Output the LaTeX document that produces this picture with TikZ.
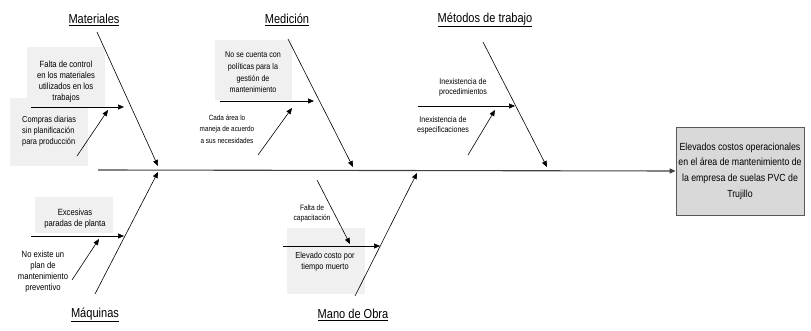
\documentclass[tikz,border=0pt]{standalone}
\usepackage{fontspec}
\setmainfont{Liberation Sans}[FakeStretch=0.85]
\usetikzlibrary{arrows.meta}
\newcommand{\fz}[2]{\fontsize{#1}{#2}\selectfont}
\begin{document}
\begin{tikzpicture}[x=1pt,y=-1pt,
  conn/.style={draw=black, line width=0.6pt, -{Triangle[length=6pt,width=5pt]}},
  spine/.style={draw=black!75, line width=1.1pt, -{Triangle[length=6pt,width=5pt]}},
  boxfill/.style={fill=black!6},
  lbl/.style={inner sep=0pt, align=center, text=black},
  ttl/.style={inner sep=0pt, text=black, font=\fz{13}{15}},
  effbox/.style={draw=black!65, fill=black!15, line width=0.8pt, minimum width=128pt, minimum height=88pt, inner sep=0pt, align=center, font=\fz{10.3}{15.7}}]
\useasboundingbox (0,0) rectangle (811,331);
% background boxes
\path[boxfill] (10,98) rectangle (88,166);
\path[boxfill] (27,47) rectangle (105,107);
\path[boxfill] (215,40) rectangle (292,100);
\path[boxfill] (35,197) rectangle (113,233);
\path[boxfill] (287,228) rectangle (365,294);
% effect
\node[effbox] (eff) at (740,171) {Elevados costos operacionales\\en el área de mantenimiento de\\la empresa de suelas PVC de\\Trujillo};
% titles
\node[ttl] (tmat) at (94,20) {\underline{Materiales}};
\node[ttl] (tmed) at (287,20) {\underline{Medición}};
\node[ttl] (tmet) at (485,20) {\underline{Métodos de trabajo}};
\node[ttl] (tmaq) at (95,315) {\underline{Máquinas}};
\node[ttl] (tmo) at (353,315) {\underline{Mano de Obra}};
% labels
\node[lbl, font=\fz{9}{11}] (l1) at (66,81.5) {Falta de control\\en los materiales\\utilizados en los\\trabajos};
\node[lbl, font=\fz{8.7}{11}, align=left, anchor=west] (l2) at (22,131) {Compras diarias\\sin planificación\\para producción};
\node[lbl, font=\fz{8.4}{11.7}] (l3) at (253,72.5) {No se cuenta con\\políticas para la\\gestión de\\mantenimiento};
\node[lbl, font=\fz{7.5}{11.7}] (l4) at (227,129) {Cada área lo\\maneja de acuerdo\\a sus necesidades};
\node[lbl, font=\fz{8.3}{10}] (l5) at (463,87) {Inexistencia de\\procedimientos};
\node[lbl, font=\fz{8.3}{10}] (l6) at (443,125) {Inexistencia de\\especificaciones};
\node[lbl, font=\fz{9}{11}] (l7) at (75,218.5) {Excesivas\\paradas de planta};
\node[lbl, font=\fz{9}{11}] (l8) at (43,271.5) {No existe un\\plan de\\mantenimiento\\preventivo};
\node[lbl, font=\fz{7.8}{10}] (l9) at (312,213) {Falta de\\capacitación};
\node[lbl, font=\fz{8.7}{11}] (l10) at (325,261.5) {Elevado costo por\\tiempo muerto};
% spine
\coordinate (sp) at (98,170);
\draw[spine] (sp) -- (eff.west);
% bones
\coordinate (bmatS) at (97,32);  \coordinate (bmatE) at (158,166);
\coordinate (bmedS) at (288,39); \coordinate (bmedE) at (353,167);
\coordinate (bmetS) at (483,42); \coordinate (bmetE) at (547,167);
\coordinate (bmaqS) at (95,294); \coordinate (bmaqE) at (158,172);
\coordinate (bmoS) at (355,296); \coordinate (bmoE) at (417,173);
\draw[conn] (bmatS) -- (bmatE);
\draw[conn] (bmedS) -- (bmedE);
\draw[conn] (bmetS) -- (bmetE);
\draw[conn] (bmaqS) -- (bmaqE);
\draw[conn] (bmoS) -- (bmoE);
% sub-causes
\coordinate (a1s) at (31,107);  \coordinate (a1e) at (124,107);
\coordinate (a2s) at (77,156);  \coordinate (a2e) at (108,110);
\coordinate (a3s) at (220,101); \coordinate (a3e) at (314,101);
\coordinate (a4s) at (258,155); \coordinate (a4e) at (292,108);
\coordinate (a5s) at (418,106); \coordinate (a5e) at (515,106);
\coordinate (a6s) at (468,155); \coordinate (a6e) at (495,110);
\coordinate (a7s) at (31,236);  \coordinate (a7e) at (124,236);
\coordinate (a8s) at (72,280);  \coordinate (a8e) at (99,239);
\coordinate (a9s) at (283,246); \coordinate (a9e) at (380,246);
\coordinate (a10s) at (317,180); \coordinate (a10e) at (350,244);
\draw[conn] (a1s) -- (a1e);
\draw[conn] (a2s) -- (a2e);
\draw[conn] (a3s) -- (a3e);
\draw[conn] (a4s) -- (a4e);
\draw[conn] (a5s) -- (a5e);
\draw[conn] (a6s) -- (a6e);
\draw[conn] (a7s) -- (a7e);
\draw[conn] (a8s) -- (a8e);
\draw[conn] (a9s) -- (a9e);
\draw[conn] (a10s) -- (a10e);
\end{tikzpicture}
\end{document}
